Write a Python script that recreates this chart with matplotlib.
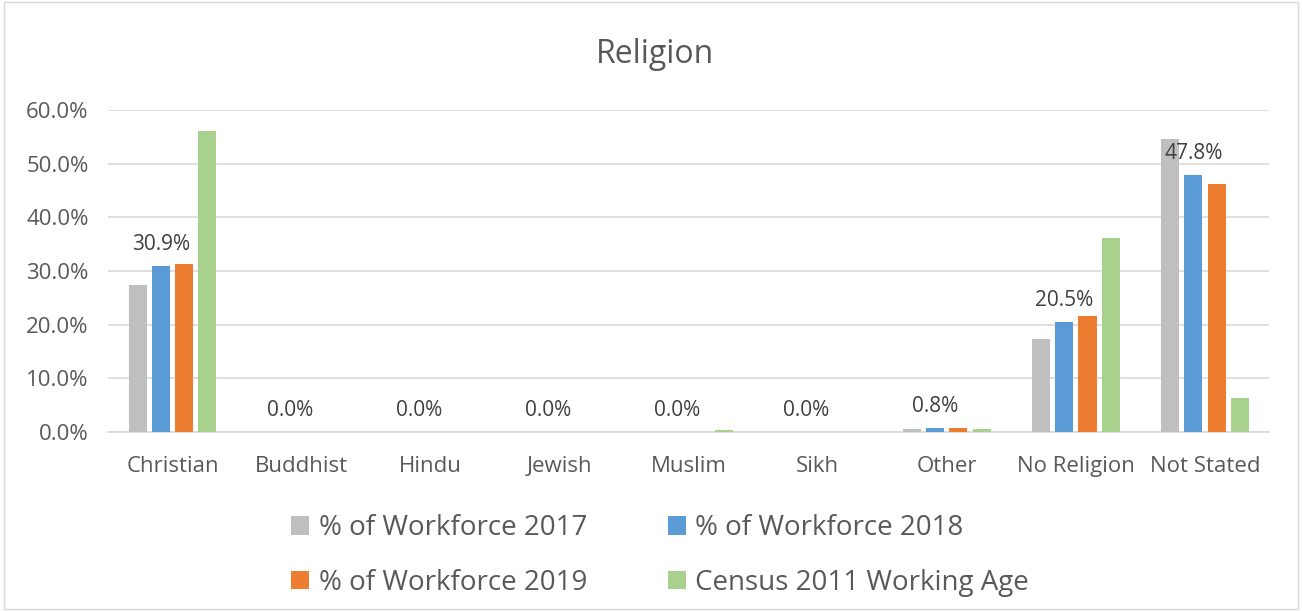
import matplotlib.pyplot as plt
import numpy as np

plt.rcParams['font.family'] = ['Open Sans', 'DejaVu Sans']

categories = ["Christian", "Buddhist", "Hindu", "Jewish", "Muslim", "Sikh",
              "Other", "No Religion", "Not Stated"]
wf_2017 = [27.4, 0.0, 0.0, 0.0, 0.0, 0.0, 0.6, 17.3, 54.6]
wf_2018 = [30.9, 0.0, 0.0, 0.0, 0.0, 0.0, 0.8, 20.5, 47.8]
wf_2019 = [31.3, 0.0, 0.0, 0.0, 0.0, 0.0, 0.7, 21.6, 46.2]
census_2011 = [56.1, 0.0, 0.0, 0.0, 0.3, 0.0, 0.5, 36.1, 6.3]
series_names = ["% of Workforce 2017", "% of Workforce 2018",
                "% of Workforce 2019", "Census 2011 Working Age"]
colors = ["#bfbfbf", "#5b9bd5", "#ed7d31", "#a9d18e"]

fig = plt.figure(figsize=(13.02, 6.11), dpi=100)
ax = fig.add_axes([0.083, 0.293, 0.892, 0.527])

x = np.arange(len(categories))
step = 0.18
width = 0.14
all_series = [wf_2017, wf_2018, wf_2019, census_2011]
bars = []
for i, vals in enumerate(all_series):
    b = ax.bar(x + (i - 1.5) * step, vals, width, color=colors[i],
               label=series_names[i], zorder=3)
    bars.append(b)

# data labels on 2018 series
for xi, v in zip(x, wf_2018):
    ax.annotate("%.1f%%" % v, (xi - 0.5 * step, v), xytext=(0, 8),
                textcoords="offset points", ha="center", va="bottom",
                fontsize=15, color="#404040")

ax.set_xlim(-0.5, len(categories) - 0.5)
ax.set_ylim(0, 60)
ax.set_yticks(np.arange(0, 61, 10))
ax.set_yticklabels(["%.1f%%" % t for t in np.arange(0, 61, 10)])
ax.set_xticks(x)
ax.set_xticklabels(categories)
ax.tick_params(axis="both", length=0, labelsize=16, colors="#595959")
ax.tick_params(axis="x", pad=17)
ax.tick_params(axis="y", pad=14)
ax.grid(axis="y", color="#d9d9d9", linewidth=1.2, zorder=0)
for s in ["top", "right", "left"]:
    ax.spines[s].set_visible(False)
ax.spines["bottom"].set_color("#d9d9d9")
ax.spines["bottom"].set_linewidth(1.2)

fig.text(0.503, 0.91, "Religion", ha="center", va="center", fontsize=23,
         color="#595959")

# legend fills column-wise, so reorder to get row-wise order
order = [0, 2, 1, 3]
fig.legend(handles=[bars[i] for i in order],
           labels=[series_names[i] for i in order], ncol=2, loc="center",
           bbox_to_anchor=(0.507, 0.091), frameon=False, fontsize=20,
           labelcolor="#595959", handlelength=0.65, handleheight=0.65,
           columnspacing=2.9, labelspacing=0.95, handletextpad=0.35)

border = plt.Rectangle((0.003, 0.003), 0.994, 0.994, transform=fig.transFigure,
                       fill=False, edgecolor="#d9d9d9", linewidth=1)
fig.patches.append(border)

fig.savefig("out.png", dpi=100)
